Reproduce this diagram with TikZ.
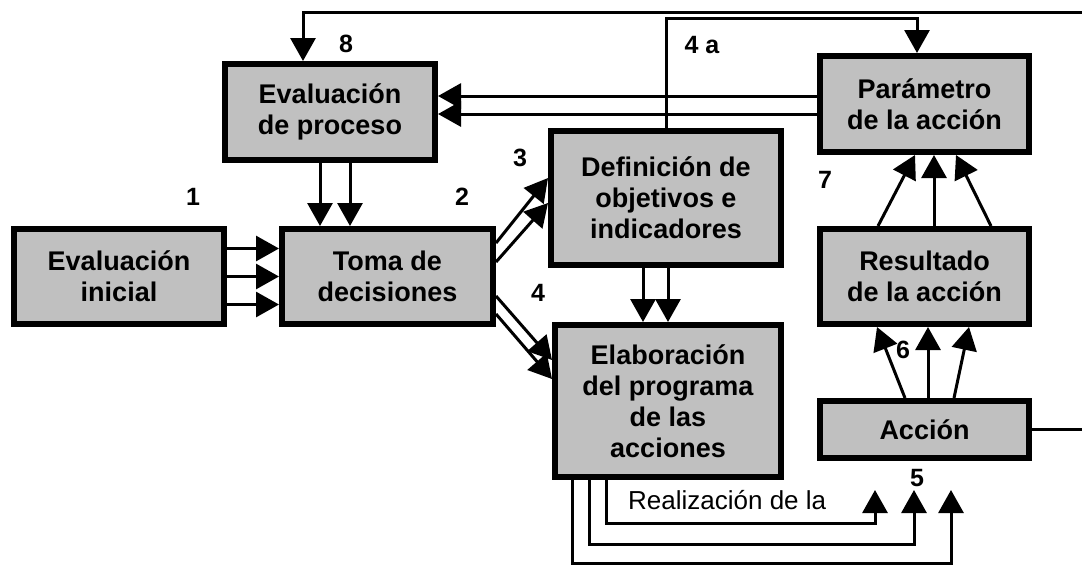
\documentclass[tikz,border=0pt]{standalone}
\usepackage{fontspec}
\setmainfont{Liberation Sans}
\usetikzlibrary{arrows.meta}
\definecolor{boxgray}{RGB}{192,192,192}
\begin{document}
\begin{tikzpicture}[x=1pt,y=-1pt,
  box/.style={draw=black, line width=6pt, fill=boxgray, align=center,
    font=\bfseries\fontsize{27}{31}\selectfont, inner sep=0pt},
  conn/.style={line width=3pt},
  arr/.style={conn, -{Triangle[length=23pt,width=25pt]}},
  num/.style={font=\bfseries\fontsize{25}{28}\selectfont, inner sep=0pt},
  plain/.style={font=\fontsize{26}{30}\selectfont, inner sep=0pt}]
\useasboundingbox (0,0) rectangle (1082,566);

% boxes
\node[box, minimum width=210pt, minimum height=96pt] (ep) at (330,112) {Evaluación\\de proceso};
\node[box, minimum width=210pt, minimum height=95pt] (ei) at (119,276.5) {Evaluación\\inicial};
\node[box, minimum width=211pt, minimum height=95pt] (td) at (387.5,276.5) {Toma de\\decisiones};
\node[box, minimum width=230pt, minimum height=134pt] (def) at (666,198) {Definición de\\objetivos e\\indicadores};
\node[box, minimum width=226pt, minimum height=152pt] (ela) at (668,401) {Elaboración\\del programa\\de las\\acciones};
\node[box, minimum width=209pt, minimum height=96pt] (par) at (924.5,104) {Parámetro\\de la acción};
\node[box, minimum width=209pt, minimum height=95pt] (res) at (924.5,276.5) {Resultado\\de la acción};
\node[box, minimum width=209pt, minimum height=57pt] (acc) at (924.5,429.5) {Acción};

% free ends
\coordinate (r1) at (1082,12);
\coordinate (r2) at (1082,429.5);
\coordinate (t1) at (875,490);
\coordinate (t2) at (914,490);
\coordinate (t3) at (951,490);

% labels
\node[num] (n8) at (346,44) {8};
\node[num] (n1) at (193,197) {1};
\node[num] (n2) at (462,197) {2};
\node[num] (n3) at (520,158) {3};
\node[num] (n4a) at (702,45) {4 a};
\node[num] (n7) at (825,180) {7};
\node[num] (n4) at (538,293) {4};
\node[num] (n6) at (903,350) {6};
\node[num] (n5) at (917,478) {5};
\node[plain, anchor=west] (real) at (628,500) {Realización de la};

% connectors
\draw[arr] (r1) -| ([xshift=-27pt]ep.north);
\draw[arr] (def.north) -- ++(0,-110) -| ([xshift=-7.5pt]par.north);
\draw[arr] ([yshift=8pt]par.west) -- ([yshift=16pt]ep.east);
\draw[arr] ([yshift=-10pt]par.west) -- ([yshift=-2pt]ep.east);
\draw[arr] ([xshift=-10pt]ep.south) -- ([xshift=-67.5pt]td.north);
\draw[arr] ([xshift=20pt]ep.south) -- ([xshift=-37.5pt]td.north);
\draw[arr] ([yshift=28pt]ei.east) -- ([yshift=28pt]td.west);
\draw[arr] (ei.east) -- (td.west);
\draw[arr] ([yshift=-28pt]ei.east) -- ([yshift=-28pt]td.west);
\draw[arr] ([yshift=33.5pt]td.east) -- ([yshift=20pt]def.west);
\draw[arr] ([yshift=14.5pt]td.east) -- ([yshift=-5pt]def.west);
\draw[arr] ([yshift=-19.5pt]td.east) -- ([yshift=41pt]ela.west);
\draw[arr] ([yshift=-37.5pt]td.east) -- ([yshift=22pt]ela.west);
\draw[arr] ([xshift=-23pt]def.south) -- ([xshift=-25pt]ela.north);
\draw[arr] ([xshift=2pt]def.south) -- (ela.north);
\draw[arr] ([xshift=-46.5pt]res.north) -- ([xshift=-9.5pt]par.south);
\draw[arr] ([xshift=9.5pt]res.north) -- ([xshift=9.5pt]par.south);
\draw[arr] ([xshift=66.5pt]res.north) -- ([xshift=31.5pt]par.south);
\draw[arr] ([xshift=-19.5pt]acc.north) -- ([xshift=-47.5pt]res.south);
\draw[arr] ([xshift=3.5pt]acc.north) -- ([xshift=3.5pt]res.south);
\draw[arr] ([xshift=29.5pt]acc.north) -- ([xshift=44.5pt]res.south);
\draw[conn] (acc.east) -- (r2);
\draw[arr] ([xshift=-62pt]ela.south) -- ++(0,43) -| (t1);
\draw[arr] ([xshift=-79pt]ela.south) -- ++(0,64) -| (t2);
\draw[arr] ([xshift=-96pt]ela.south) -- ++(0,83) -| (t3);
\end{tikzpicture}
\end{document}
